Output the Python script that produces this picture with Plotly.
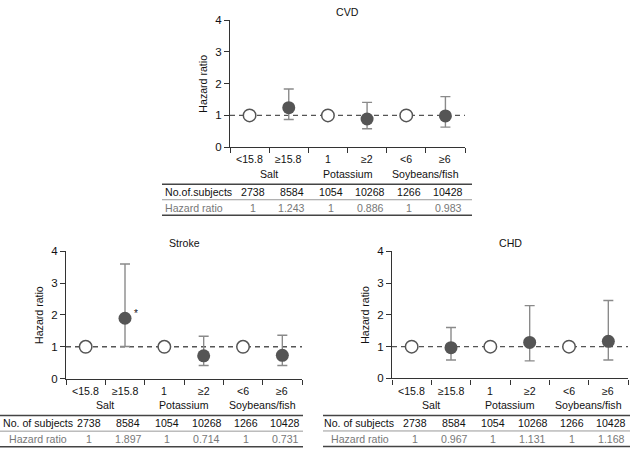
import plotly.graph_objects as go

W, H = 630, 454

categories = ["<15.8", "≥15.8", "1", "≥2", "<6", "≥6"]
groups = ["Salt", "Potassium", "Soybeans/fish"]
subjects = [2738, 8584, 1054, 10268, 1266, 10428]

cvd_hr = [1, 1.243, 1, 0.886, 1, 0.983]
cvd_lo = [None, 0.87, None, 0.58, None, 0.63]
cvd_hi = [None, 1.83, None, 1.41, None, 1.59]

stroke_hr = [1, 1.897, 1, 0.714, 1, 0.731]
stroke_lo = [None, 1.01, None, 0.41, None, 0.41]
stroke_hi = [None, 3.60, None, 1.33, None, 1.36]

chd_hr = [1, 0.967, 1, 1.131, 1, 1.168]
chd_lo = [None, 0.58, None, 0.55, None, 0.58]
chd_hi = [None, 1.60, None, 2.29, None, 2.45]

hr_text = {
    "CVD": ["1", "1.243", "1", "0.886", "1", "0.983"],
    "Stroke": ["1", "1.897", "1", "0.714", "1", "0.731"],
    "CHD": ["1", "0.967", "1", "1.131", "1", "1.168"],
}

FONT = "Liberation Sans, Arial, sans-serif"
FS = 10.6
DARK = "#555555"
ERR = "#8a8a8a"
TXT = "#111111"

def px(x):
    return x / W

def py(y):
    return 1 - y / H

panels = [
    dict(name="CVD", hr=cvd_hr, lo=cvd_lo, hi=cvd_hi, x0=230, x1=465, y0=145, y4=14.5,
         tl=162, tr=472, lab1="No.of.subjects", labx1=198, labx2=194, ytitle_x=203, ax=""),
    dict(name="Stroke", hr=stroke_hr, lo=stroke_lo, hi=stroke_hi, x0=66, x1=302, y0=382.7, y4=252,
         tl=0, tr=303, lab1="No. of subjects", labx1=37.5, labx2=38, ytitle_x=39, ax="2"),
    dict(name="CHD", hr=chd_hr, lo=chd_lo, hi=chd_hi, x0=392, x1=628, y0=382.5, y4=252,
         tl=323, tr=630, lab1="No. of subjects", labx1=359, labx2=360, ytitle_x=365, ax="3"),
]

fig = go.Figure()
annotations = []
shapes = []
layout = {}

xc = [i + 0.5 for i in range(len(categories))]

def ann(**kw):
    d = dict(showarrow=False, xanchor="center", yanchor="middle")
    d.update(kw)
    annotations.append(d)

for p in panels:
    ax = p["ax"]
    xname = "x" + ax
    yname = "y" + ax
    layout["xaxis" + ax] = dict(
        domain=[px(p["x0"]), px(p["x1"])], range=[0, 6], anchor=yname,
        showline=True, linecolor="#333333", linewidth=1.3,
        ticks="outside", ticklen=5, tickcolor="#333333", tickwidth=1.3,
        tickvals=[0, 1, 2, 3, 4, 5, 6], showticklabels=False,
        showgrid=False, zeroline=False, fixedrange=True,
    )
    layout["yaxis" + ax] = dict(
        domain=[py(p["y0"]), py(p["y4"])], range=[0, 4], anchor=xname,
        showline=True, linecolor="#333333", linewidth=1.3,
        ticks="outside", ticklen=5, tickcolor="#333333", tickwidth=1.3,
        tickvals=[0, 1, 2, 3, 4], tickfont=dict(family=FONT, size=11.5, color=TXT),
        showgrid=False, zeroline=False, fixedrange=True,
    )
    shapes.append(dict(type="line", xref=xname, yref=yname, x0=0, x1=6, y0=1, y1=1,
                       line=dict(color=DARK, width=1.4, dash="5px,4px"), layer="below"))
    idx = [i for i in range(6) if p["lo"][i] is not None]
    fig.add_trace(go.Scatter(
        x=[xc[i] for i in idx], y=[p["hr"][i] for i in idx],
        error_y=dict(type="data", symmetric=False,
                     array=[p["hi"][i] - p["hr"][i] for i in idx],
                     arrayminus=[p["hr"][i] - p["lo"][i] for i in idx],
                     color=ERR, thickness=1.4, width=5),
        mode="markers", marker=dict(size=13, color=DARK, line=dict(width=0)),
        xaxis=xname, yaxis=yname, showlegend=False, hoverinfo="skip"))
    ref = [i for i in range(6) if p["lo"][i] is None]
    fig.add_trace(go.Scatter(
        x=[xc[i] for i in ref], y=[p["hr"][i] for i in ref],
        mode="markers", marker=dict(size=12.5, color="white", line=dict(width=1.5, color=DARK)),
        xaxis=xname, yaxis=yname, showlegend=False, hoverinfo="skip"))
    ann(text=p["name"], xref=xname + " domain", x=0.5, yref="paper", y=py(p["y4"] - 8.5),
        font=dict(family=FONT, size=FS, color=TXT))
    ann(text="Hazard ratio", xref="paper", x=px(p["ytitle_x"]), yref=yname, y=2,
        textangle=-90, font=dict(family=FONT, size=FS, color=TXT))
    y0 = p["y0"]
    for i, c in enumerate(categories):
        ann(text=c, xref=xname, x=xc[i], yref="paper", y=py(y0 + 12.5),
            font=dict(family=FONT, size=FS, color=TXT))
        ann(text=str(subjects[i]), xref=xname, x=xc[i], xshift=3, yref="paper", y=py(y0 + 46),
            font=dict(family=FONT, size=FS, color=TXT))
        ann(text=hr_text[p["name"]][i], xref=xname, x=xc[i], xshift=3, yref="paper", y=py(y0 + 62),
            font=dict(family=FONT, size=FS, color="#777"))
    for g, gx in zip(groups, [1, 3, 5]):
        ann(text=g, xref=xname, x=gx, yref="paper", y=py(y0 + 27.5),
            font=dict(family=FONT, size=FS, color=TXT))
    ann(text=p["lab1"], xref="paper", x=px(p["labx1"]), yref="paper", y=py(y0 + 46),
        font=dict(family=FONT, size=FS, color=TXT))
    ann(text="Hazard ratio", xref="paper", x=px(p["labx2"]), yref="paper", y=py(y0 + 62),
        font=dict(family=FONT, size=FS, color="#777"))
    for ly, col, wd in [(y0 + 38, "#444", 1.5), (y0 + 54, "#999", 1), (y0 + 70, "#444", 1.5)]:
        shapes.append(dict(type="line", xref="paper", yref="paper",
                           x0=px(p["tl"]), x1=px(p["tr"]), y0=py(ly), y1=py(ly),
                           line=dict(color=col, width=wd)))

ann(text="*", xref="x2", x=xc[1], yref="y2", y=stroke_hr[1], xshift=11, yshift=5,
    font=dict(family=FONT, size=10, color=TXT))

fig.update_layout(
    width=W, height=H, margin=dict(l=0, r=0, t=0, b=0),
    paper_bgcolor="white", plot_bgcolor="white",
    annotations=annotations, shapes=shapes, showlegend=False,
    **layout,
)

fig.write_html("out.html", config={"displayModeBar": False},
               post_script="document.body.style.margin='0';document.body.style.overflow='hidden';")
